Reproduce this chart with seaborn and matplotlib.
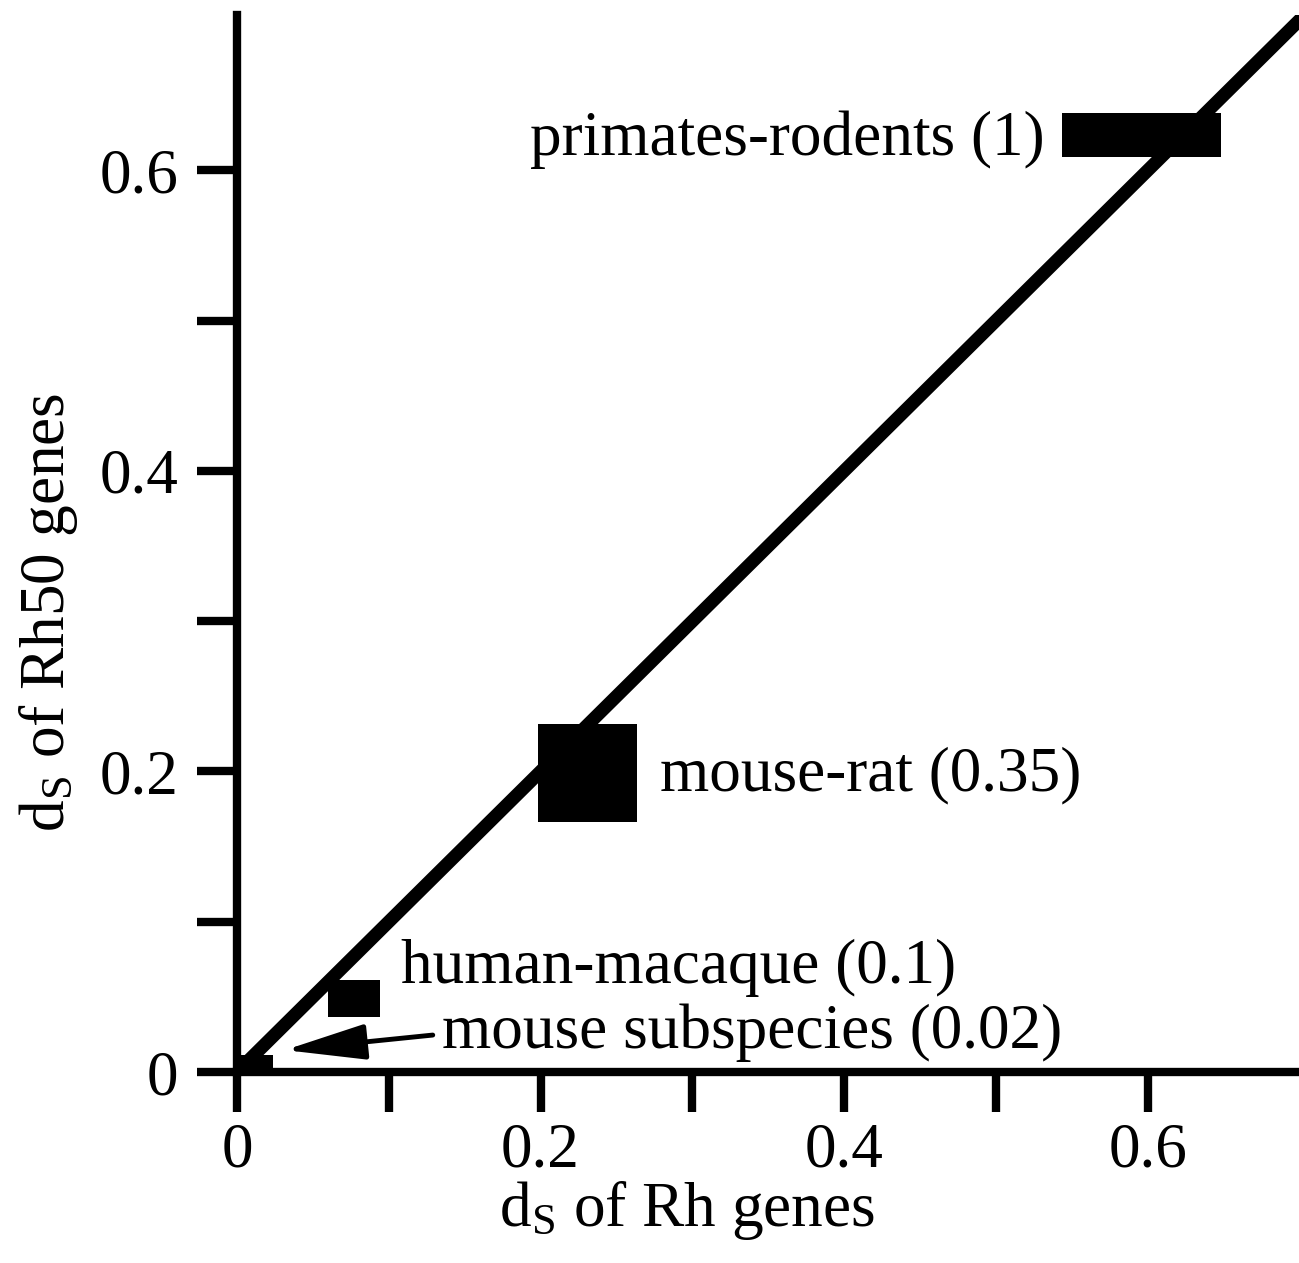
import numpy as np
import pandas as pd
import matplotlib
matplotlib.use("Agg")
import matplotlib.pyplot as plt
import seaborn as sns

# ---------------------------------------------------------------
# data (box centre = mean dS, box size = range)
# ---------------------------------------------------------------
pairs = ["primates-rodents", "mouse-rat", "human-macaque", "mouse subspecies"]
div_time = ["1", "0.35", "0.1", "0.02"]
ds_rh = [0.596, 0.2309, 0.0771, 0.0128]        # x centre
ds_rh50 = [0.6234, 0.1989, 0.0489, 0.0050]     # y centre
ds_rh_range = [0.105, 0.0652, 0.0343, 0.0217]  # box width
ds_rh50_range = [0.0293, 0.0652, 0.0246, 0.0130]  # box height

# y = x reference line
fit_x = [0.0, 0.72]
fit_y = [0.0, 0.72]

x_ticks = [0, 0.1, 0.2, 0.3, 0.4, 0.5, 0.6]
y_ticks = [0, 0.1, 0.2, 0.3, 0.4, 0.5, 0.6]
tick_labels = ["0", "", "0.2", "", "0.4", "", "0.6"]

df = pd.DataFrame({"pair": pairs, "time": div_time, "x": ds_rh, "y": ds_rh50,
                   "w": ds_rh_range, "h": ds_rh50_range})

# ---------------------------------------------------------------
# style
# ---------------------------------------------------------------
sns.set_theme(style="ticks")
plt.rcParams["font.family"] = ["Liberation Serif", "DejaVu Serif"]
plt.rcParams["mathtext.fontset"] = "custom"
plt.rcParams["mathtext.rm"] = "Liberation Serif"
plt.rcParams["mathtext.it"] = "Liberation Serif:italic"
plt.rcParams["text.color"] = "black"
plt.rcParams["axes.labelcolor"] = "black"
plt.rcParams["xtick.color"] = "black"
plt.rcParams["ytick.color"] = "black"
FS = 45.5

fig = plt.figure(figsize=(12.99, 12.63), dpi=100)
ax = fig.add_axes([0.1824, 0.1512, 0.8176, 0.8369])

# diagonal line
sns.lineplot(x=fit_x, y=fit_y, ax=ax, color="black", linewidth=9.5, zorder=2)

# boxes
ax.bar(df["x"], df["h"], width=df["w"], bottom=df["y"] - df["h"] / 2,
       color="black", edgecolor="none", zorder=3)

# labels next to each box (layout only)
label_pos = [(0.532, 0.620, "right"), (0.2787, 0.1976, "left"),
             (0.1080, 0.0690, "left"), (0.1350, 0.0260, "left")]
for (lx, ly, ha), name, t in zip(label_pos, df["pair"], df["time"]):
    ax.text(lx, ly, f"{name} ({t})", ha=ha, va="center", fontsize=FS,
            color="black", zorder=4)

# arrow pointing at the mouse subspecies box
ax.annotate("", xy=(0.0316, 0.0146), xytext=(0.1290, 0.0246),
            arrowprops=dict(arrowstyle="-|>,head_length=5.0,head_width=1.1",
                            color="black", lw=3.5, mutation_scale=10,
                            shrinkA=0, shrinkB=0), zorder=4)

ax.set_xlim(0, 0.6996)
ax.set_ylim(0, 0.7033)
ax.set_xticks(x_ticks)
ax.set_xticklabels(tick_labels)
ax.set_yticks(y_ticks)
ax.set_yticklabels(tick_labels)

for s in ["top", "right"]:
    ax.spines[s].set_visible(False)
for s in ["left", "bottom"]:
    ax.spines[s].set_linewidth(6)
    ax.spines[s].set_color("black")

ax.tick_params(axis="both", direction="out", length=29, width=6,
               color="black", labelsize=FS, labelcolor="black")
ax.tick_params(axis="x", pad=7)
ax.tick_params(axis="y", pad=13)

ax.set_xlabel(r"d$_{\mathrm{S}}$ of Rh genes", fontsize=FS, color="black")
ax.set_ylabel(r"d$_{\mathrm{S}}$ of Rh50 genes", fontsize=FS, color="black")
ax.xaxis.set_label_coords(0.4237, -0.101)
ax.yaxis.set_label_coords(-0.148, 0.435)

ax.grid(False)
ax.set_facecolor("white")
fig.patch.set_facecolor("white")

fig.savefig("out.png", dpi=100)
